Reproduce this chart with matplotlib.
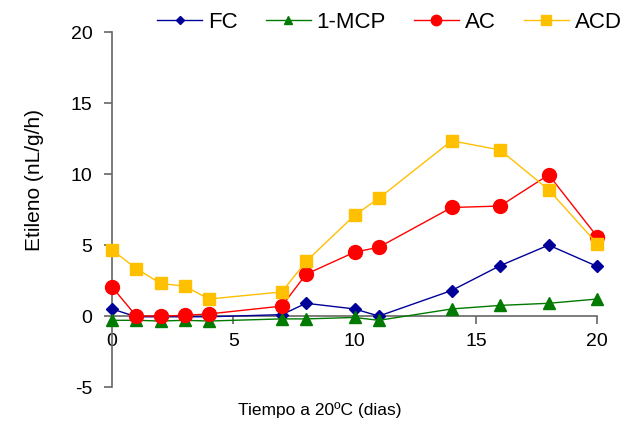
import matplotlib
matplotlib.use('Agg')
import matplotlib.pyplot as plt

plt.rcParams['font.family'] = ['Liberation Sans', 'DejaVu Sans']
plt.rcParams['axes.unicode_minus'] = False

dias = [0, 1, 2, 3, 4, 7, 8, 10, 11, 14, 16, 18, 20]
fc = [0.5, -0.05, -0.05, -0.05, -0.05, 0.1, 0.9, 0.5, 0.0, 1.8, 3.55, 5.0, 3.5]
mcp = [-0.3, -0.3, -0.35, -0.3, -0.35, -0.2, -0.2, -0.1, -0.3, 0.5, 0.75, 0.9, 1.2]
ac = [2.05, 0.0, 0.0, 0.05, 0.15, 0.7, 2.95, 4.5, 4.85, 7.65, 7.75, 9.95, 5.6]
acd = [4.65, 3.35, 2.3, 2.1, 1.2, 1.7, 3.85, 7.1, 8.3, 12.35, 11.7, 8.9, 5.1]

fig = plt.figure(figsize=(6.24, 4.41), dpi=100)
ax = fig.add_axes([0.1795, 0.1224, 0.7775, 0.8046])

ax.plot(dias, fc, '-D', color='#000099', ms=6, lw=1, label='FC', clip_on=False, zorder=3)
ax.plot(dias, mcp, '-^', color='#007A00', ms=8, lw=1, label='1-MCP', clip_on=False, zorder=4)
ax.plot(dias, ac, '-o', color='#FF0000', ms=10, lw=1, label='AC', clip_on=False, zorder=5)
ax.plot(dias, acd, '-s', color='#FFC000', ms=9, lw=1, label='ACD', clip_on=False, zorder=6)

ax.set_xlim(0, 20)
ax.set_ylim(-5, 20)
ax.set_xticks([0, 5, 10, 15, 20])
ax.set_yticks([-5, 0, 5, 10, 15, 20])
ax.spines['top'].set_visible(False)
ax.spines['right'].set_visible(False)
ax.spines['bottom'].set_position(('data', 0))
for s in ['left', 'bottom']:
    ax.spines[s].set_color('#666666')
    ax.spines[s].set_linewidth(1.2)
ax.tick_params(axis='both', labelsize=14, color='#666666', length=6, width=1.2)
ax.tick_params(axis='y', pad=8)
ax.tick_params(axis='x', pad=6)

fig.text(0.056, 0.592, 'Etileno (nL/g/h)', fontsize=15, rotation=90,
         ha='center', va='center')
fig.text(0.513, 0.07, 'Tiempo a 20ºC (dias)', fontsize=12.5, ha='center', va='center')

fig.legend(loc='center left', bbox_to_anchor=(157 / 624, 0.95), ncol=4, frameon=False,
           fontsize=16, handlelength=2.03, handletextpad=0.27, columnspacing=1.25,
           borderpad=0, borderaxespad=0, markerscale=0.75)

fig.savefig('out.png', dpi=100)
